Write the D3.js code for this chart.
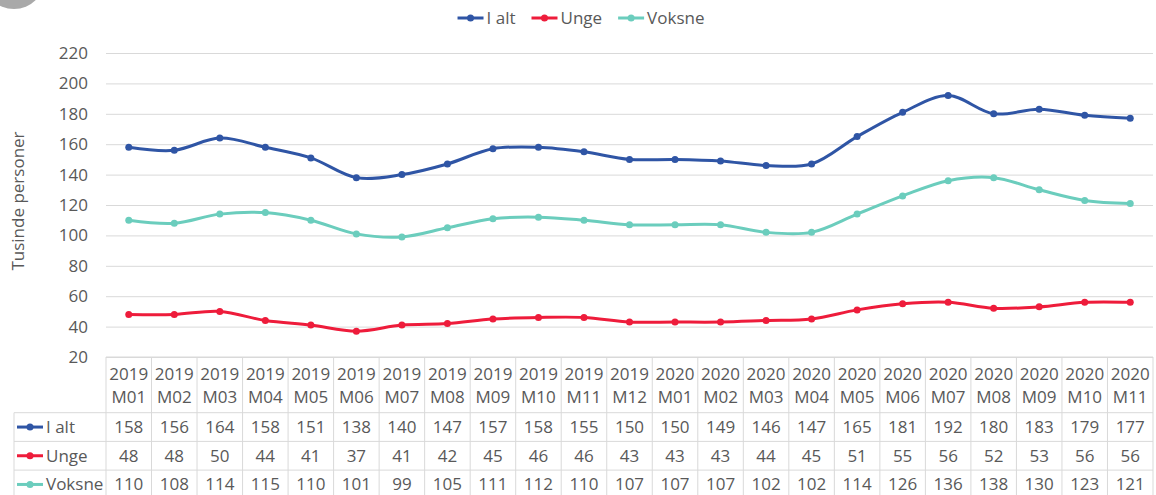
<!DOCTYPE html>
<html>
<head>
<meta charset="utf-8">
<script src="https://cdn.jsdelivr.net/npm/d3@7"></script>
<style>
  html, body { margin: 0; padding: 0; background: #fff; }
  svg { display: block; font-family: "Open Sans", sans-serif; }
</style>
</head>
<body>
<svg id="chart" width="1156" height="495"></svg>
<script>
const years = ["2019","2019","2019","2019","2019","2019","2019","2019","2019","2019","2019","2019",
               "2020","2020","2020","2020","2020","2020","2020","2020","2020","2020","2020"];
const months = ["M01","M02","M03","M04","M05","M06","M07","M08","M09","M10","M11","M12",
                "M01","M02","M03","M04","M05","M06","M07","M08","M09","M10","M11"];
const categories = years.map((y, i) => y + " " + months[i]);
const iAlt   = [158,156,164,158,151,138,140,147,157,158,155,150,150,149,146,147,165,181,192,180,183,179,177];
const unge   = [48,48,50,44,41,37,41,42,45,46,46,43,43,43,44,45,51,55,56,52,53,56,56];
const voksne = [110,108,114,115,110,101,99,105,111,112,110,107,107,107,102,102,114,126,136,138,130,123,121];
const seriesNames = ["I alt", "Unge", "Voksne"];
const seriesColors = ["#2f55a5", "#ee1c3b", "#6bcdbd"];
const yTicks = [20,40,60,80,100,120,140,160,180,200,220];
const yTitle = "Tusinde personer";

(function () {
const series = [iAlt, unge, voksne].map((v, i) => ({name: seriesNames[i], color: seriesColors[i], values: v}));

const svg = d3.select("#chart");
const textColor = "#595959";
const gridColor = "#d9d9d9";
const fs = 17;

const pLeft = 106, pRight = 1153, pTop = 53, pBottom = 357;
const x = d3.scaleBand().domain(categories).range([pLeft, pRight]).padding(0);
const y = d3.scaleLinear().domain([20, 220]).range([pBottom, pTop]);
const cx = c => x(c) + x.bandwidth() / 2;

// decorative gray circle top-left
svg.append("circle").attr("cx", 14).attr("cy", -22).attr("r", 31).attr("fill", "#a9a9a9");

// y axis with gridlines
const yAxis = svg.append("g").attr("transform", `translate(${pLeft},0)`)
  .call(d3.axisLeft(y).tickValues(yTicks).tickSize(-(pRight - pLeft)).tickPadding(18));
yAxis.select(".domain").remove();
yAxis.selectAll(".tick line").attr("stroke", gridColor).attr("stroke-width", 1);
yAxis.selectAll(".tick text").attr("fill", textColor).attr("font-size", fs)
  .attr("font-family", "Open Sans, sans-serif");

svg.append("text").attr("transform", `translate(24,${(pTop + pBottom) / 2 - 4}) rotate(-90)`)
  .attr("text-anchor", "middle").attr("fill", textColor).attr("font-size", 17).text(yTitle);

// lines
const line = d3.line().x((d, i) => cx(categories[i])).y(d => y(d)).curve(d3.curveCatmullRom.alpha(0.5));
series.forEach(s => {
  svg.append("path").attr("d", line(s.values)).attr("fill", "none")
    .attr("stroke", s.color).attr("stroke-width", 3).attr("stroke-linecap", "round");
  svg.append("g").selectAll("circle").data(s.values).join("circle")
    .attr("cx", (d, i) => cx(categories[i])).attr("cy", d => y(d)).attr("r", 3.5).attr("fill", s.color);
});

// top legend
const legend = svg.append("g");
let lx = 0;
series.forEach(s => {
  const g = legend.append("g").attr("transform", `translate(${lx},0)`);
  g.append("line").attr("x1", 0).attr("x2", 26).attr("y1", 0).attr("y2", 0)
    .attr("stroke", s.color).attr("stroke-width", 3);
  g.append("circle").attr("cx", 13).attr("cy", 0).attr("r", 3.5).attr("fill", s.color);
  const t = g.append("text").attr("x", 29).attr("y", 0).attr("dy", "0.35em")
    .attr("fill", textColor).attr("font-size", fs).text(s.name);
  const w = 29 + t.node().getComputedTextLength();
  lx += w + 16;
});
const totalW = lx - 16;
legend.attr("transform", `translate(${581 - totalW / 2},18)`);

// table
const rowH = 28.7;
const headTop = pBottom, headBot = 412.7;
const tableBot = headBot + rowH * 3;
const tbl = svg.append("g");
tbl.append("line").attr("x1", pLeft).attr("x2", pRight).attr("y1", headTop).attr("y2", headTop).attr("stroke", gridColor);
for (let r = 0; r <= 3; r++) {
  const yy = headBot + r * rowH;
  tbl.append("line").attr("x1", 14).attr("x2", pRight).attr("y1", yy).attr("y2", yy).attr("stroke", gridColor);
}
tbl.append("line").attr("x1", 14).attr("x2", 14).attr("y1", headBot).attr("y2", tableBot).attr("stroke", gridColor);
categories.forEach(c => {
  tbl.append("line").attr("x1", x(c)).attr("x2", x(c)).attr("y1", headTop).attr("y2", tableBot).attr("stroke", gridColor);
});
tbl.append("line").attr("x1", pRight).attr("x2", pRight).attr("y1", headTop).attr("y2", tableBot).attr("stroke", gridColor);

categories.forEach((c, i) => {
  tbl.append("text").attr("x", cx(c)).attr("y", 380).attr("text-anchor", "middle")
    .attr("fill", textColor).attr("font-size", fs).text(years[i]);
  tbl.append("text").attr("x", cx(c)).attr("y", 403).attr("text-anchor", "middle")
    .attr("fill", textColor).attr("font-size", fs).text(months[i]);
});

series.forEach((s, r) => {
  const yc = headBot + r * rowH + rowH / 2;
  tbl.append("line").attr("x1", 17).attr("x2", 43).attr("y1", yc).attr("y2", yc)
    .attr("stroke", s.color).attr("stroke-width", 3);
  tbl.append("circle").attr("cx", 30).attr("cy", yc).attr("r", 3.5).attr("fill", s.color);
  tbl.append("text").attr("x", 46).attr("y", yc).attr("dy", "0.35em")
    .attr("fill", textColor).attr("font-size", fs).text(s.name);
  s.values.forEach((v, i) => {
    tbl.append("text").attr("x", cx(categories[i])).attr("y", yc).attr("dy", "0.35em")
      .attr("text-anchor", "middle").attr("fill", textColor).attr("font-size", fs).text(v);
  });
});
})();
</script>
</body>
</html>
